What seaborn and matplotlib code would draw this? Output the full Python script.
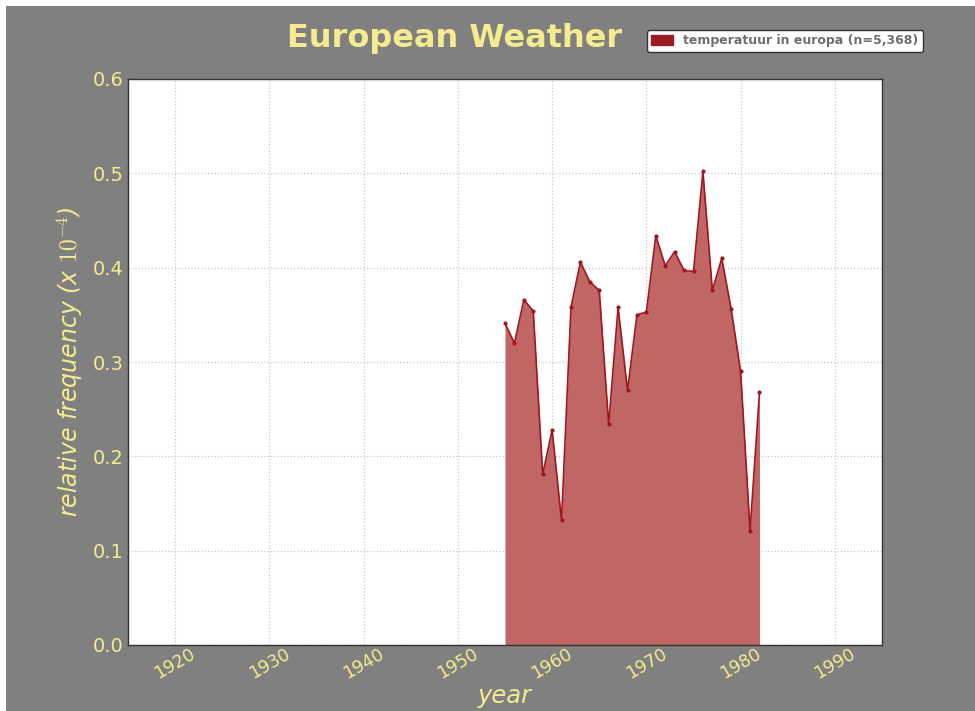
import numpy as np
import pandas as pd
import seaborn as sns
import matplotlib.pyplot as plt
from matplotlib.patches import Patch, Rectangle

years = list(range(1955, 1983))
freq = [0.341, 0.320, 0.366, 0.354, 0.181, 0.228, 0.132, 0.358, 0.406, 0.385,
        0.376, 0.234, 0.358, 0.270, 0.350, 0.353, 0.434, 0.402, 0.417, 0.397,
        0.396, 0.502, 0.376, 0.410, 0.356, 0.290, 0.121, 0.268]
label = "temperatuur in europa (n=5,368)"

yellow = "#f4ec8e"
grey = "#808080"
line_col = "#a0161d"
fill_col = "#c06664"

sns.set_style("whitegrid")
plt.rcParams["mathtext.fontset"] = "cm"

frame = pd.DataFrame({"year": years, "freq": freq})

fig = plt.figure(figsize=(9.75, 7.11), dpi=100)
fig.patch.set_facecolor("white")
fig.patches.append(Rectangle((6 / 975, 0), 1, 1 - 6 / 711, transform=fig.transFigure,
                             facecolor=grey, edgecolor="none", zorder=-10))

ax = fig.add_axes([128 / 975, 66 / 711, 754 / 975, 566 / 711])
ax.set_facecolor("white")

ax.fill_between(frame["year"], frame["freq"], color=fill_col, lw=0, zorder=2)
sns.lineplot(data=frame, x="year", y="freq", ax=ax, color=line_col, lw=1.2,
             marker="o", markersize=3, markeredgewidth=0, zorder=3)

ax.set_xlim(1915, 1995)
ax.set_ylim(0, 0.6)
ax.set_xticks(range(1920, 1991, 10))
ax.set_yticks(np.arange(0, 0.61, 0.1))
ax.set_yticklabels([f"{v:.1f}" for v in np.arange(0, 0.61, 0.1)])
ax.grid(True, color="#c8c8c8", linestyle=":", lw=0.9)
ax.tick_params(axis="x", labelrotation=30, labelsize=12.5, colors=yellow, pad=0, length=0)
ax.tick_params(axis="y", labelsize=14, colors=yellow, pad=3, length=0)
for s in ax.spines.values():
    s.set_color("#333333")
    s.set_linewidth(1)

ax.set_xlabel("year", fontsize=17.5, style="italic", color=yellow)
ax.xaxis.set_label_coords(0.5, -0.069)
ax.set_ylabel(r"relative frequency (x $10^{-4}$)", fontsize=17, style="italic",
              color=yellow)
ax.yaxis.set_label_coords(-0.057, 0.5)

fig.text(455 / 975, 1 - 39 / 711, "European Weather", fontsize=23, fontweight="bold",
         color=yellow, ha="center", va="center")

leg = fig.legend(handles=[Patch(facecolor="#9b1b1f", edgecolor="#9b1b1f", label=label)],
                 loc="upper right", bbox_to_anchor=(923 / 975, 1 - 30 / 711),
                 fontsize=9, frameon=True, handlelength=1.8, handleheight=0.8,
                 borderpad=0.35, borderaxespad=0)
for t in leg.get_texts():
    t.set_color("#6e6e6e")
    t.set_fontweight("bold")
leg.get_frame().set_edgecolor("#333333")
leg.get_frame().set_facecolor("white")
leg.get_frame().set_alpha(1)

fig.savefig("out.png", dpi=100, facecolor=fig.get_facecolor())
